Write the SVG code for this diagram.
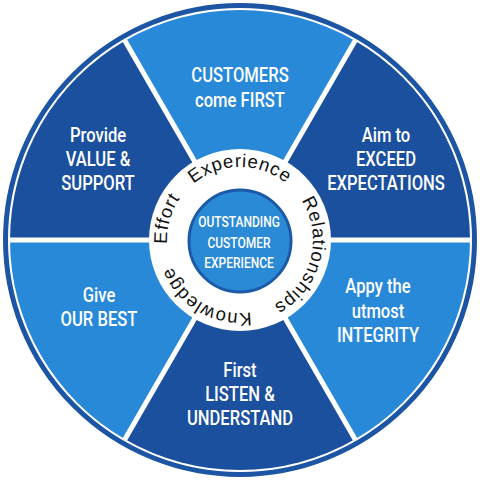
<svg xmlns="http://www.w3.org/2000/svg" width="480" height="480" viewBox="0 0 480 480">
<defs>
<style>
.light{fill:#2789d8}
.dark{fill:#1b509e}
.lbl{font-family:Roboto,"Liberation Sans",Arial,sans-serif;font-size:20px;font-weight:500;fill:#ffffff;text-anchor:middle}
.ctr{font-family:Roboto,"Liberation Sans",Arial,sans-serif;font-size:15px;font-weight:500;fill:#ffffff;text-anchor:middle}
.ring{font-family:"Liberation Sans",Arial,sans-serif;font-size:18.5px;fill:#111111;letter-spacing:0.8px;text-anchor:middle}
.div{stroke:#ffffff;stroke-width:5}
</style>
<path id="arc" d="M168.59,255.18 A73,73 0 1,1 311.41,224.82 A73,73 0 1,1 168.59,255.18"/>
</defs>
<rect width="480" height="480" fill="#ffffff"/>
<circle cx="240" cy="240" r="234.5" fill="none" stroke="#1c55a4" stroke-width="5"/>
<g id="sector-customers">
<path class="light" d="M240,240 L125,40.8 A230,230 0 0,1 355,40.8 Z"/>
<g transform="translate(240,0) scale(0.83,1)"><text class="lbl" x="0" y="82">CUSTOMERS</text><text class="lbl" x="0" y="107">come FIRST</text></g>
</g>
<g id="sector-exceed">
<path class="dark" d="M240,240 L355,40.8 A230,230 0 0,1 470,240 Z"/>
<g transform="translate(386,0) scale(0.83,1)"><text class="lbl" x="0" y="142">Aim to</text><text class="lbl" x="0" y="166">EXCEED</text><text class="lbl" x="0" y="190">EXPECTATIONS</text></g>
</g>
<g id="sector-integrity">
<path class="light" d="M240,240 L470,240 A230,230 0 0,1 355,439.2 Z"/>
<g transform="translate(378,0) scale(0.83,1)"><text class="lbl" x="0" y="293">Appy the</text><text class="lbl" x="0" y="318">utmost</text><text class="lbl" x="0" y="342">INTEGRITY</text></g>
</g>
<g id="sector-listen">
<path class="dark" d="M240,240 L355,439.2 A230,230 0 0,1 125,439.2 Z"/>
<g transform="translate(240,0) scale(0.83,1)"><text class="lbl" x="0" y="377">First</text><text class="lbl" x="0" y="401">LISTEN &amp;</text><text class="lbl" x="0" y="425">UNDERSTAND</text></g>
</g>
<g id="sector-best">
<path class="light" d="M240,240 L125,439.2 A230,230 0 0,1 10,240 Z"/>
<g transform="translate(99,0) scale(0.83,1)"><text class="lbl" x="0" y="302">Give</text><text class="lbl" x="0" y="326">OUR BEST</text></g>
</g>
<g id="sector-value">
<path class="dark" d="M240,240 L10,240 A230,230 0 0,1 125,40.8 Z"/>
<g transform="translate(98,0) scale(0.83,1)"><text class="lbl" x="0" y="142">Provide</text><text class="lbl" x="0" y="166">VALUE &amp;</text><text class="lbl" x="0" y="190">SUPPORT</text></g>
</g>
<g id="dividers">
<line class="div" x1="240" y1="240" x2="471" y2="240"/>
<line class="div" x1="240" y1="240" x2="355.5" y2="440"/>
<line class="div" x1="240" y1="240" x2="124.5" y2="440"/>
<line class="div" x1="240" y1="240" x2="9" y2="240"/>
<line class="div" x1="240" y1="240" x2="124.5" y2="40"/>
<line class="div" x1="240" y1="240" x2="355.5" y2="40"/>
</g>
<g id="values-ring">
<circle cx="240" cy="240" r="91" fill="#ffffff"/>
<text class="ring"><textPath href="#arc" startOffset="28.3%">Experience</textPath></text>
<text class="ring"><textPath href="#arc" startOffset="57.5%">Relationships</textPath></text>
<text class="ring"><textPath href="#arc" startOffset="86.7%">Knowledge</textPath></text>
<text class="ring"><textPath href="#arc" startOffset="7.8%">Effort</textPath></text>
</g>
<g id="center">
<circle cx="240" cy="241" r="51" fill="#2b8ad6" stroke="#1b5aa8" stroke-width="3"/>
<g transform="translate(239,0) scale(0.8,1)"><text class="ctr" x="0" y="227">OUTSTANDING</text><text class="ctr" x="0" y="248">CUSTOMER</text><text class="ctr" x="0" y="268">EXPERIENCE</text></g>
</g>
</svg>
